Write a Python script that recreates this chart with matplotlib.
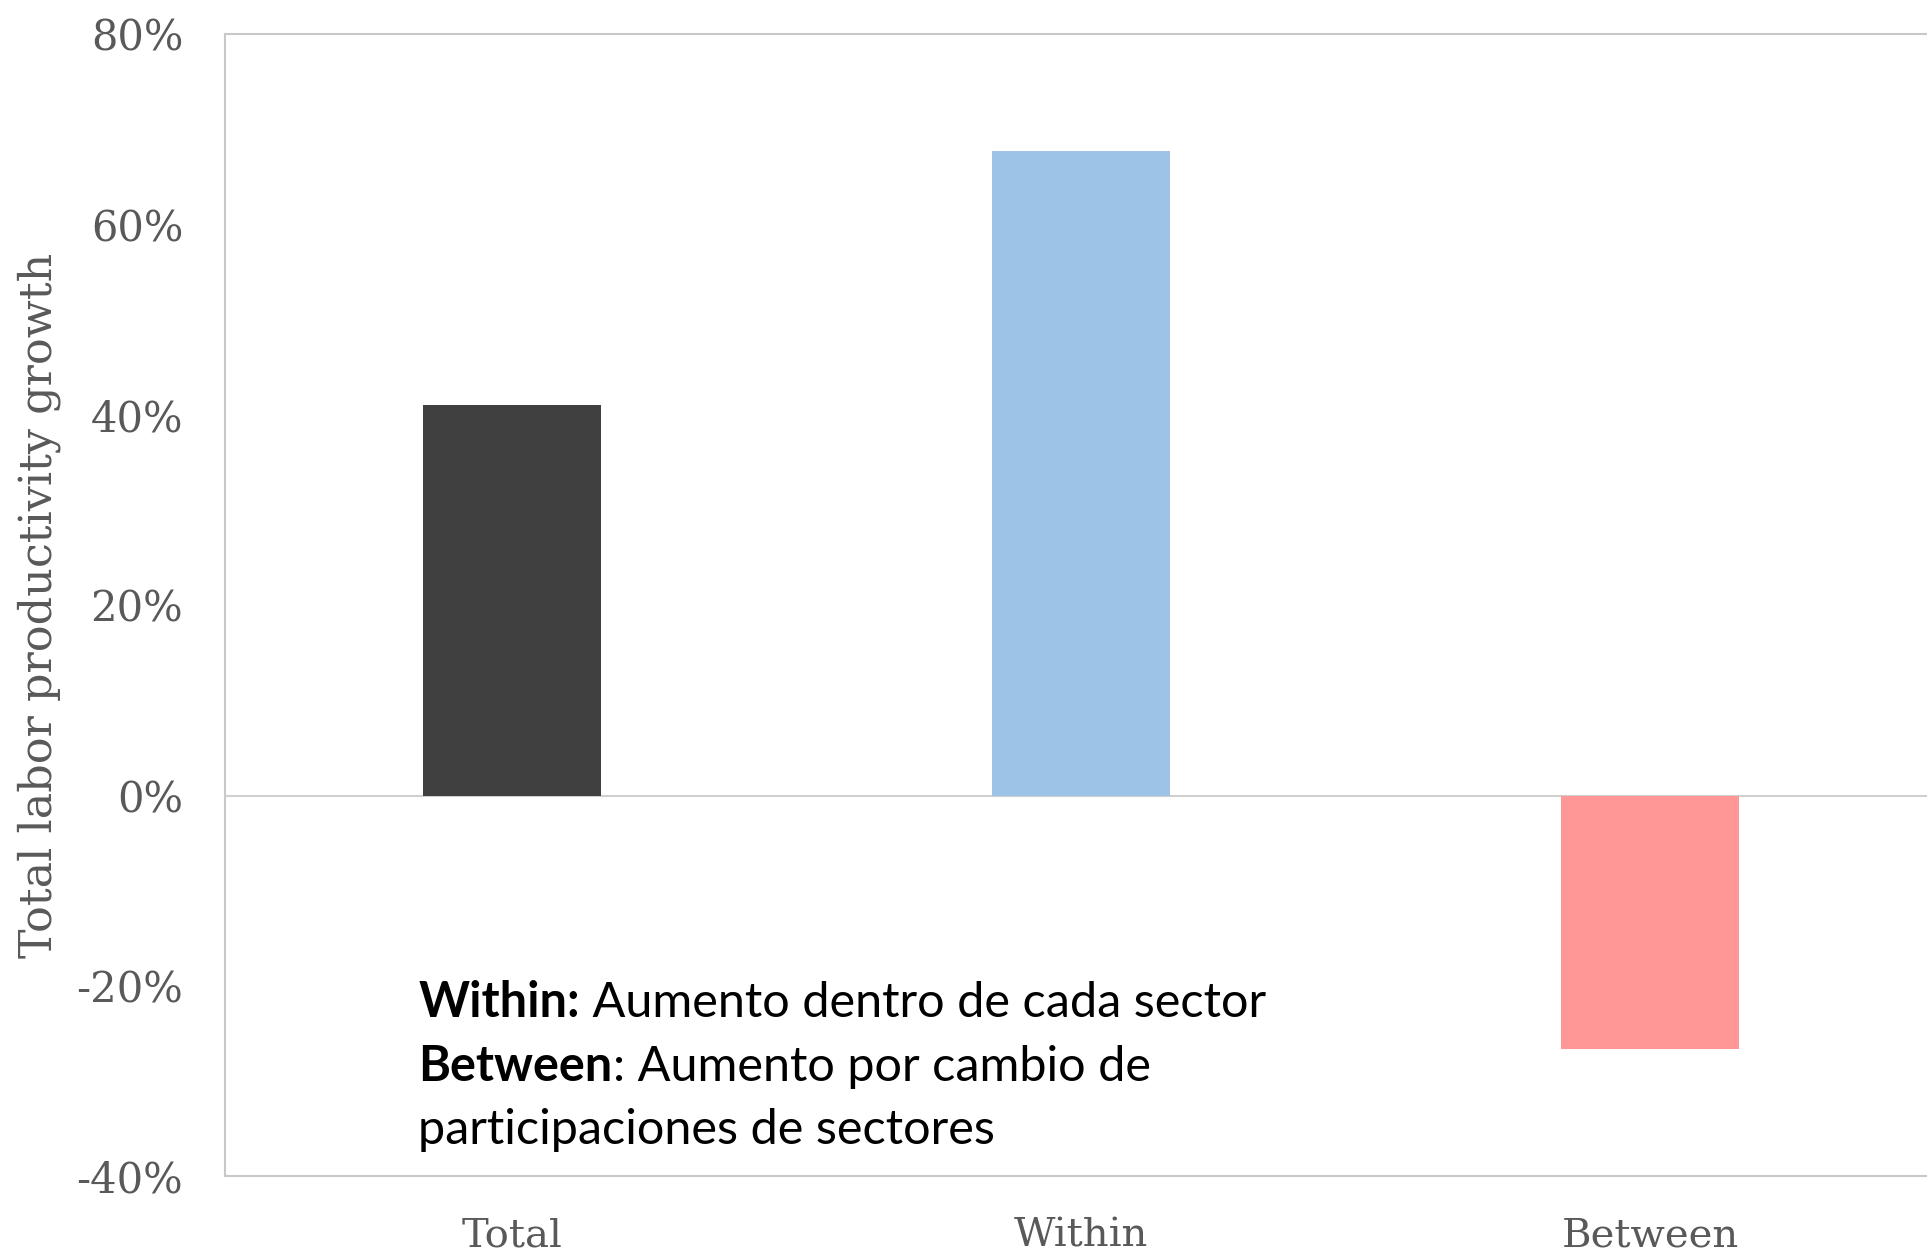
import matplotlib.pyplot as plt
from matplotlib.ticker import FuncFormatter

# productivity growth decomposition (share, %)
categories = ['Total', 'Within', 'Between']
growth = [41.1, 67.7, -26.6]
bar_colors = ['#404040', '#9dc3e6', '#ff9797']
yticks = [-40, -20, 0, 20, 40, 60, 80]

fig = plt.figure(figsize=(19.27, 12.56), dpi=100)
ax = fig.add_axes([0.1167, 0.0636, 0.8873, 0.909])

x = range(len(categories))
ax.bar(x, growth, width=0.313, color=bar_colors, zorder=2)

ax.set_xlim(-0.505, 2.5)
ax.set_ylim(-40, 80)
ax.set_yticks(yticks)
ax.yaxis.set_major_formatter(FuncFormatter(lambda v, p: '%d%%' % v))
ax.set_xticks(list(x))
ax.set_xticklabels(categories)
ax.axhline(0, color='#d0d0d0', lw=1.5, zorder=1)

for side in ['left', 'top', 'bottom']:
    ax.spines[side].set_color('#c8c8c8')
    ax.spines[side].set_linewidth(1.5)
ax.spines['right'].set_visible(False)

ax.tick_params(length=0, labelcolor='#595959')
ax.tick_params(axis='y', pad=30, labelsize=30)
ax.tick_params(axis='x', pad=30, labelsize=29)
for lbl in ax.get_xticklabels() + ax.get_yticklabels():
    lbl.set_family('DejaVu Serif')

ax.set_ylabel('Total labor productivity growth', family='DejaVu Serif',
              fontsize=32, color='#595959')
ax.yaxis.set_label_coords(-0.096, 0.5)

# definitions box text
notes = [('Within:', ' Aumento dentro de cada sector'),
         ('Between', ': Aumento por cambio de'),
         ('', 'participaciones de sectores')]
line_y = [-23.3, -30.0, -36.6]
renderer = fig.canvas.get_renderer()
for (bold, rest), yy in zip(notes, line_y):
    x0 = -0.165
    if bold:
        t = ax.text(x0, yy, bold, fontsize=35, family='Lato', weight='bold',
                    va='baseline', ha='left', color='black')
        bb = t.get_window_extent(renderer=renderer)
        x0 = ax.transData.inverted().transform((bb.x1, bb.y0))[0]
    ax.text(x0, yy, rest, fontsize=35, family='Lato',
            va='baseline', ha='left', color='black')

fig.savefig('out.png', dpi=100, facecolor='white')
